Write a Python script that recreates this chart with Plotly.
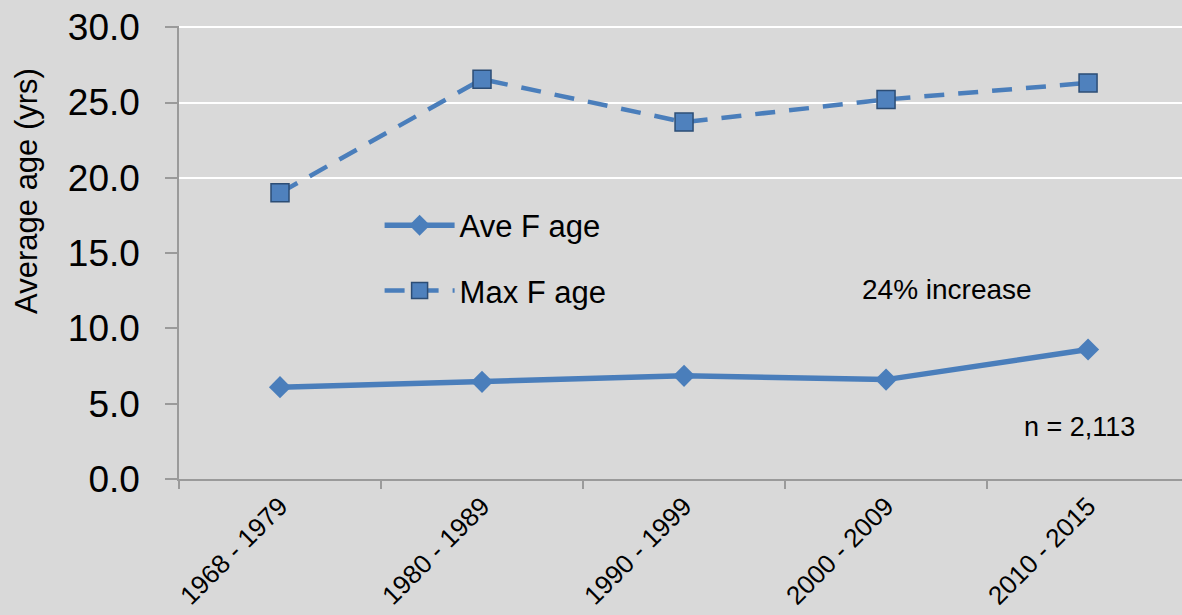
import plotly.graph_objects as go

categories = ["1968 - 1979", "1980 - 1989", "1990 - 1999", "2000 - 2009", "2010 - 2015"]
ave_f_age = [6.1, 6.45, 6.85, 6.6, 8.6]
max_f_age = [19.0, 26.55, 23.7, 25.2, 26.3]
y_ticks = [0, 5, 10, 15, 20, 25, 30]
grid_ticks = [20, 25, 30]

FONT = "Liberation Sans Narrow, Arial Narrow, Liberation Sans, Arial, sans-serif"
BLUE = "#4A7EBB"
BG = "#D9D9D9"
AXIS = "#9A9A9A"
Y_RANGE = [0, 30.08]

fig = go.Figure()
fig.add_trace(go.Scatter(
    x=categories, y=ave_f_age, name="Ave F age", mode="lines+markers",
    line=dict(color=BLUE, width=5.5),
    marker=dict(symbol="diamond", size=17, color=BLUE, line=dict(width=0)),
    legendgroup="a",
))
fig.add_trace(go.Scatter(
    x=categories, y=max_f_age, name="Max F age", mode="lines+markers",
    line=dict(color=BLUE, width=4.5, dash="20px,14px"),
    marker=dict(symbol="square", size=18, color="#4F81BD", line=dict(color="#2C4D75", width=1.5)),
    legendgroup="b",
))
# invisible trace on second y-axis to carry the partial white gridlines
fig.add_trace(go.Scatter(x=categories, y=[None] * len(categories), yaxis="y2",
                         showlegend=False, hoverinfo="skip"))

fig.update_layout(
    width=1182, height=615,
    margin=dict(l=179, r=0, t=26, b=136),
    paper_bgcolor=BG, plot_bgcolor=BG,
    font=dict(family=FONT, color="#000000"),
    showlegend=True,
    legend=dict(
        x=0.2, y=0.619, xanchor="left", yanchor="top",
        bgcolor="rgba(0,0,0,0)", font=dict(size=31, family=FONT),
        itemwidth=70, tracegroupgap=22, traceorder="grouped",
    ),
    xaxis=dict(
        type="category", range=[-0.5, 4.465],
        showline=True, linecolor=AXIS, linewidth=1.5,
        ticks="outside", tickson="boundaries", ticklen=8, tickcolor=AXIS, tickwidth=1.5,
        tickangle=-45, tickfont=dict(size=26, family=FONT),
        showgrid=False, zeroline=False,
    ),
    yaxis=dict(
        range=Y_RANGE, tickvals=y_ticks, tickformat=".1f",
        showline=True, linecolor=AXIS, linewidth=1.5,
        ticks="outside", ticklen=12, tickcolor=AXIS, tickwidth=1.5,
        tickfont=dict(size=37, family=FONT), ticklabelstandoff=18,
        showgrid=False, zeroline=False,
    ),
    yaxis2=dict(
        range=Y_RANGE, overlaying="y", side="left", tickvals=grid_ticks,
        showgrid=True, gridcolor="#FFFFFF", gridwidth=2,
        showticklabels=False, showline=False, zeroline=False, ticks="",
    ),
    annotations=[
        dict(text="Average age (yrs)", xref="paper", yref="paper", x=-0.152, y=0.635,
             textangle=-90, showarrow=False, font=dict(size=31, family=FONT),
             xanchor="center", yanchor="middle"),
        dict(text="24% increase", xref="paper", yref="paper", x=0.766, y=0.418,
             showarrow=False, font=dict(size=28, family=FONT),
             xanchor="center", yanchor="middle"),
        dict(text="n = 2,113", xref="paper", yref="paper", x=0.898, y=0.115,
             showarrow=False, font=dict(size=27, family=FONT),
             xanchor="center", yanchor="middle"),
    ],
)

fig.write_html(
    "out.html",
    config={"displayModeBar": False},
    post_script="document.body.style.margin='0';document.body.style.overflow='hidden';",
)
